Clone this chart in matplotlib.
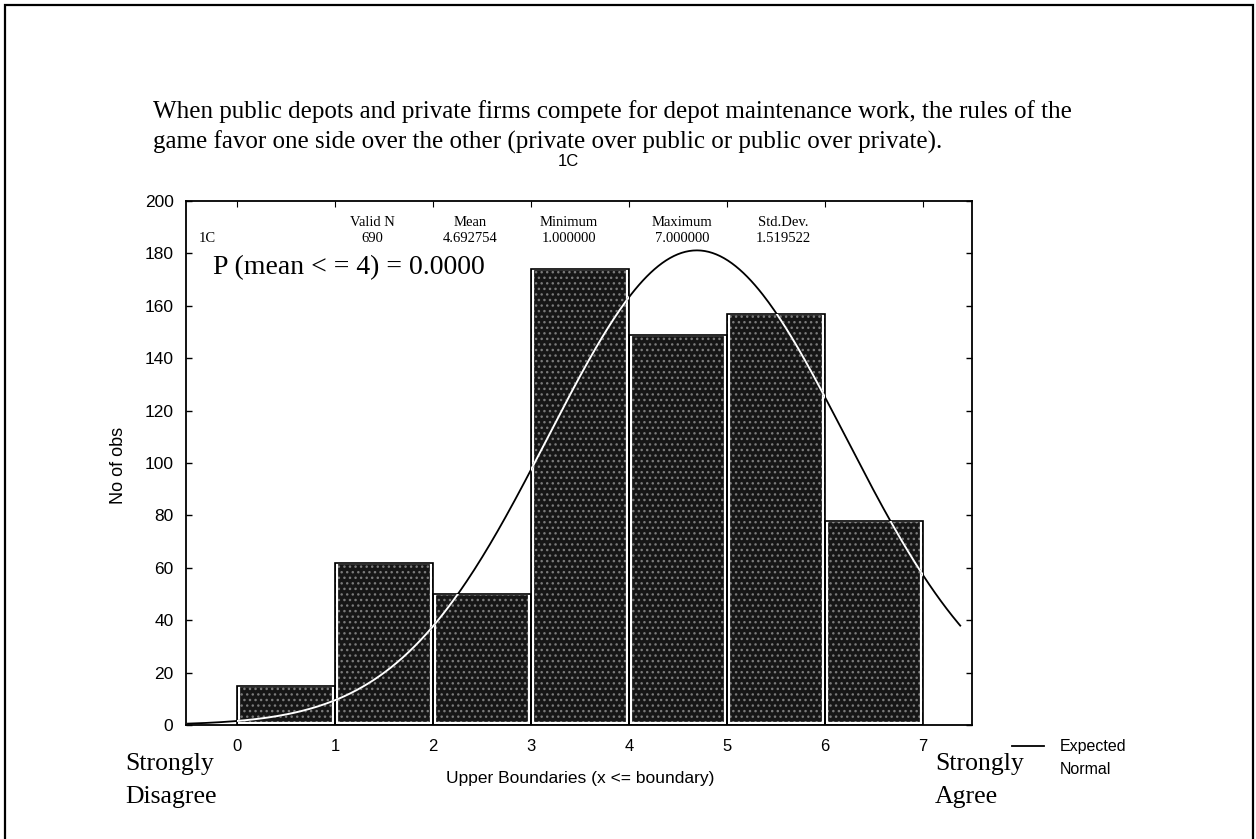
import numpy as np
import matplotlib
matplotlib.use("Agg")
import matplotlib.pyplot as plt
from matplotlib.lines import Line2D
from matplotlib.patches import Rectangle

# ---- data ----
bin_left = [0, 1, 2, 3, 4, 5, 6]
counts = [15, 62, 50, 174, 149, 157, 78]
y_ticks = [0, 20, 40, 60, 80, 100, 120, 140, 160, 180, 200]
x_ticks = [0, 1, 2, 3, 4, 5, 6, 7]
stat_names = ["Valid N", "Mean", "Minimum", "Maximum", "Std.Dev."]
stat_values = ["690", "4.692754", "1.000000", "7.000000", "1.519522"]
valid_n = 690
mean_val = 4.692754
std_val = 1.519522
title_lines = ["When public depots and private firms compete for depot maintenance work, the rules of the",
               "game favor one side over the other (private over public or public over private)."]

SERIF = ["Liberation Serif", "DejaVu Serif"]
SANS = ["Liberation Sans", "DejaVu Sans"]

fig = plt.figure(figsize=(12.56, 8.39), dpi=100)
W, H = 1256, 839

def fx(px):
    return px / W

def fy(py):
    return 1 - py / H

# outer frame
fig.patches.append(Rectangle((fx(5), -0.02), fx(1253) - fx(5), fy(5) + 0.02,
                             transform=fig.transFigure, fill=False,
                             edgecolor="black", lw=1.6))

ax = fig.add_axes([fx(186), fy(725), fx(972) - fx(186), fy(201) - fy(725)])
ax.set_xlim(-0.52, 7.5)
ax.set_ylim(0, 200)

# bars: speckled dark fill
bars = ax.bar(bin_left, counts, width=1, align="edge", color="#161616",
              edgecolor="#7a7a7a", hatch="...", lw=0, zorder=2)
# inner white border
ax.bar([b + 0.025 for b in bin_left], [c - 0.9 for c in counts], width=0.95,
       bottom=0.9, align="edge", fill=False, edgecolor="white", lw=1.6, zorder=3)
# outer black border
ax.bar(bin_left, counts, width=1, align="edge", fill=False,
       edgecolor="black", lw=1.2, zorder=4)

# expected normal curve
xc = np.linspace(-0.5, 7.38, 400)
yc = valid_n * 1.0 / (std_val * np.sqrt(2 * np.pi)) * np.exp(-0.5 * ((xc - mean_val) / std_val) ** 2)
ax.plot(xc, yc, color="black", lw=1.3, zorder=5)
for b in bars:
    ln, = ax.plot(xc, yc, color="white", lw=1.4, zorder=6)
    ln.set_clip_path(b)

ax.set_yticks(y_ticks)
ax.set_xticks(x_ticks)
ax.set_yticklabels([str(v) for v in y_ticks], fontfamily=SANS, fontsize=12.5, fontweight="medium")
ax.set_xticklabels([str(v) for v in x_ticks], fontfamily=SANS, fontsize=12, fontweight="medium")
ax.tick_params(axis="y", which="both", direction="in", length=4, right=True, width=1, pad=9)
ax.tick_params(axis="x", which="both", direction="in", length=0, top=False, pad=10)
for s in ax.spines.values():
    s.set_linewidth(1.3)
# top spine tick marks pointing down
secx = ax.secondary_xaxis("top")
secx.set_xticks(x_ticks)
secx.tick_params(direction="in", length=4, labeltop=False)
secx.spines["top"].set_visible(False)

fig.text(fx(118), fy(465), "No of obs", rotation=90, ha="center", va="center",
         fontfamily=SANS, fontsize=13)
fig.text(fx(580), fy(778), "Upper Boundaries (x <= boundary)", ha="center", va="center",
         fontfamily=SANS, fontsize=12.5)

# stats table
col_x = [372, 470, 569, 682, 783]
for name, val, cx in zip(stat_names, stat_values, col_x):
    fig.text(fx(cx), fy(223), name, ha="center", va="center", fontfamily=SERIF, fontsize=10.5)
    fig.text(fx(cx), fy(239), val, ha="center", va="center", fontfamily=SERIF, fontsize=10.5)
fig.text(fx(199), fy(239), "1C", ha="left", va="center", fontfamily=SERIF, fontsize=10.5)

fig.text(fx(213), fy(268), "P (mean < = 4) = 0.0000", ha="left", va="center",
         fontfamily=SERIF, fontsize=20)

# title lines
fig.text(fx(153), fy(112), title_lines[0], ha="left", va="center", fontfamily=SERIF, fontsize=18)
fig.text(fx(153), fy(142), title_lines[1], ha="left", va="center", fontfamily=SERIF, fontsize=18)
fig.text(fx(568), fy(162), "1C", ha="center", va="center", fontfamily=SANS, fontsize=12)

# scale end labels
fig.text(fx(125), fy(764), "Strongly", ha="left", va="center", fontfamily=SERIF, fontsize=18.5)
fig.text(fx(125), fy(797), "Disagree", ha="left", va="center", fontfamily=SERIF, fontsize=18.5)
fig.text(fx(935), fy(764), "Strongly", ha="left", va="center", fontfamily=SERIF, fontsize=18.5)
fig.text(fx(935), fy(797), "Agree", ha="left", va="center", fontfamily=SERIF, fontsize=18.5)

# legend
fig.lines.append(Line2D([fx(1012), fx(1044)], [fy(746), fy(746)], transform=fig.transFigure,
                        color="black", lw=1.3))
fig.text(fx(1060), fy(747), "Expected", ha="left", va="center", fontfamily=SANS, fontsize=11.5,
         fontweight="medium")
fig.text(fx(1060), fy(769), "Normal", ha="left", va="center", fontfamily=SANS, fontsize=11.5,
         fontweight="medium")

fig.savefig("out.png", dpi=100)
